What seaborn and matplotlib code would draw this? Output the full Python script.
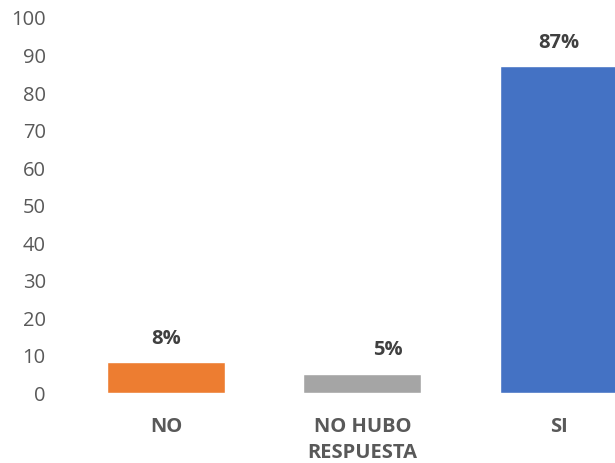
import matplotlib
matplotlib.use("Agg")
import matplotlib.pyplot as plt
import seaborn as sns
import pandas as pd

categories = ["NO", "NO HUBO\nRESPUESTA", "SI"]
values = [8, 5, 87]
labels = ["8%", "5%", "87%"]
colors = ["#ED7D31", "#A5A5A5", "#4472C4"]
label_dx = [0, 26, 0]  # horizontal offset of the value label (points)

sns.set_style("white")
plt.rcParams["font.family"] = ["Open Sans", "DejaVu Sans"]

df = pd.DataFrame({"cat": categories, "val": values})

fig = plt.figure(figsize=(6.15, 4.64), dpi=100)
ax = fig.add_axes([68 / 615, (464 - 393.5) / 464, (615 - 68) / 615, (393.5 - 18) / 464])

sns.barplot(data=df, x="cat", y="val", hue="cat", palette=colors, order=categories,
            hue_order=categories, width=0.6, legend=False, ax=ax, saturation=1)

ax.set_ylim(0, 100)
ax.set_xlim(-0.5, 2.288)
ax.set_yticks(range(0, 101, 10))
ax.set_xlabel("")
ax.set_ylabel("")
for s in ax.spines.values():
    s.set_visible(False)
ax.tick_params(axis="y", length=0, pad=16, labelsize=14.5, labelcolor="#595959")
ax.tick_params(axis="x", length=0, pad=17, labelsize=14.5, labelcolor="#595959")
for t in ax.get_xticklabels():
    t.set_fontweight("bold")
    t.set_linespacing(1.38)

for i, (v, lab) in enumerate(zip(values, labels)):
    ax.annotate(lab, xy=(i, v), xytext=(label_dx[i] * 0.72, 17.5), textcoords="offset points",
                ha="center", va="center", fontsize=14.5, fontweight="bold", color="#404040")

fig.savefig("out.png", dpi=100)
